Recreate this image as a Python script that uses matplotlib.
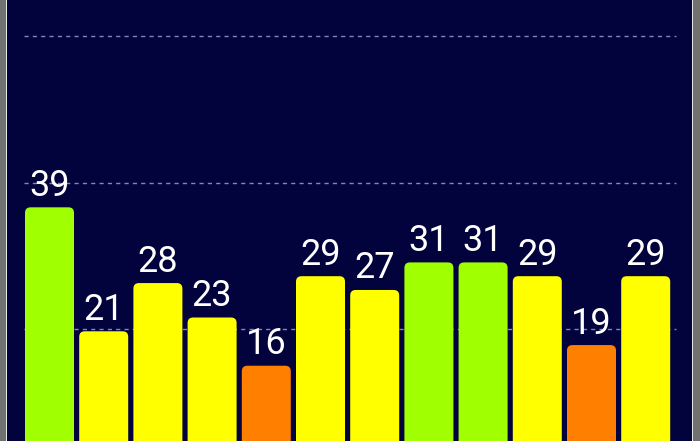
import matplotlib
matplotlib.use("Agg")
import matplotlib.pyplot as plt
from matplotlib.patches import FancyBboxPatch, Rectangle

# bar values and colour groups, left to right
values = [39, 21, 28, 23, 16, 29, 27, 31, 31, 29, 19, 29]
groups = ["high", "mid", "mid", "mid", "low", "mid", "mid", "high", "high", "mid", "low", "mid"]
palette = {"high": "#a0ff00", "mid": "#ffff00", "low": "#ff7f00"}
grid_values = [21.3, 42.6, 63.9]

navy = "#02023c"
W, H = 700, 441
fig = plt.figure(figsize=(W / 100, H / 100), dpi=100, facecolor="#717171")

# thin white edge lines at both sides of the panel
fig.patches.append(Rectangle((5.5 / W, 0), 1.6 / W, 1, transform=fig.transFigure,
                             facecolor="#e8e8e8", edgecolor="none"))
fig.patches.append(Rectangle((691.6 / W, 0), 1.6 / W, 1, transform=fig.transFigure,
                             facecolor="#e8e8e8", edgecolor="none"))

left_px, right_px = 7.1, 691.6
ax = fig.add_axes([left_px / W, 0, (right_px - left_px) / W, 1])
ax.set_facecolor(navy)

# pixel mapping used to size the axes: center of bar i at 49.5 + 54.2 * i
px_per_x = 54.2
px_per_y = 6.887
x0 = 49.5
ax.set_xlim((left_px - x0) / px_per_x, (right_px - x0) / px_per_x)
ax.set_ylim(5.07, 69.1)
for s in ax.spines.values():
    s.set_visible(False)
ax.set_xticks([])
ax.set_yticks([])

n = len(values)
ax.hlines(grid_values, -0.47, n - 0.44, colors="#8585b8", linestyles=(0, (3, 3)),
          linewidth=1.0, zorder=1)

width = 0.904
r = 5.5 / px_per_x
aspect = px_per_x / px_per_y
for i, (v, g) in enumerate(zip(values, groups)):
    box = FancyBboxPatch((i - width / 2, 0), width, v,
                         boxstyle=f"round,pad=0,rounding_size={r}",
                         mutation_aspect=aspect,
                         facecolor=palette[g], edgecolor="none", zorder=2)
    ax.add_patch(box)
    ax.text(i, v + 11.5 / px_per_y, str(v), ha="center", va="baseline",
            color="white", fontsize=26, family="Roboto", zorder=3)

fig.savefig("out.png", dpi=100, facecolor=fig.get_facecolor())
